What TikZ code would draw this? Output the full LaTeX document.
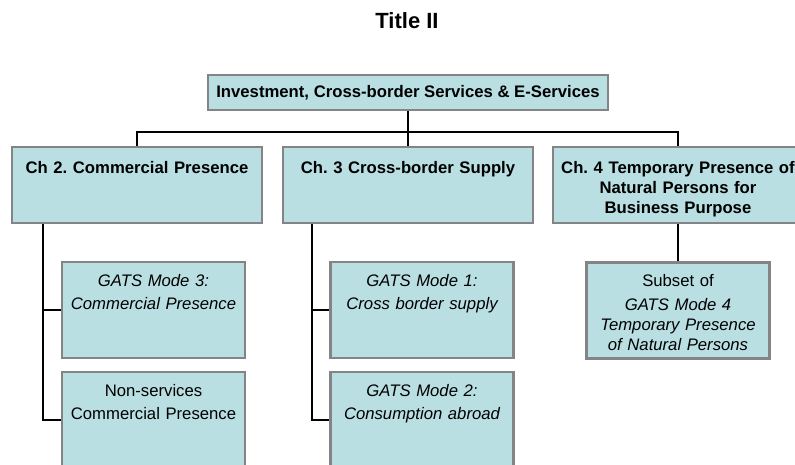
\documentclass[tikz,border=0pt]{standalone}
\usepackage{fontspec}
\setmainfont{Liberation Sans}
\frenchspacing
\definecolor{boxfill}{HTML}{B9DFE3}
\definecolor{boxline}{HTML}{848484}

\begin{document}
\begin{tikzpicture}[x=1pt, y=-1pt]
\tikzset{boite/.style={draw=boxline, line width=2.2pt, fill=boxfill, inner xsep=5pt, inner ysep=0pt, align=center, font=\fontsize{16.7}{20}\selectfont}}
\tikzset{chap/.style={boite, font=\fontsize{16.7}{20}\selectfont\bfseries, text width=240pt, text height=26pt, text depth=50pt}}
\tikzset{mode/.style={boite, inner xsep=4pt, text width=175pt, text height=24pt, text depth=72pt}}
\tikzset{lien/.style={draw, line width=2.2pt}}
\useasboundingbox (0, 0) rectangle (795, 464);
\node[font=\fontsize{22}{26}\selectfont\bfseries] (T) at (407, 21) {Title II};
\node[boite, font=\fontsize{16.7}{20}\selectfont\bfseries, minimum width=400pt, minimum height=35pt] (I) at (408, 92.5) {Investment, Cross-border Services \& E-Services};
\node[chap] (C2) at (137, 185) {Ch 2. Commercial Presence};
\node[chap] (C3) at (408, 185) {Ch. 3 Cross-border Supply};
\node[chap] (C4) at (678, 185) {Ch. 4 Temporary Presence of\\Natural Persons for\\Business Purpose};
\node[mode] (M3) at (153.5, 310) {\itshape GATS Mode 3:\\[3pt]\itshape Commercial Presence};
\node[mode] (NS) at (153.5, 420) {Non-services\\[3pt]Commercial Presence};
\node[mode] (M1) at (422, 310) {\itshape GATS Mode 1:\\[3pt]\itshape Cross border supply};
\node[mode] (M2) at (422, 420) {\itshape GATS Mode 2:\\[3pt]\itshape Consumption abroad};
\node[mode] (M4) at (678, 310.5) {Subset of\\[4pt]\itshape GATS Mode 4\\\itshape Temporary Presence\\\itshape of Natural Persons};
\coordinate (B) at (408, 132);
\draw[lien] (I.south) -- (B);
\draw[lien] (C2.north) |- (B) -| (C4.north);
\draw[lien] (B) -- (C3.north);
\draw[lien] ([xshift=-94pt]C2.south) |- (M3.west);
\draw[lien] ([xshift=-94pt]C2.south) |- (NS.west);
\draw[lien] ([xshift=-96pt]C3.south) |- (M1.west);
\draw[lien] ([xshift=-96pt]C3.south) |- (M2.west);
\draw[lien] (C4.south) -- (M4.north);
\end{tikzpicture}
\end{document}
